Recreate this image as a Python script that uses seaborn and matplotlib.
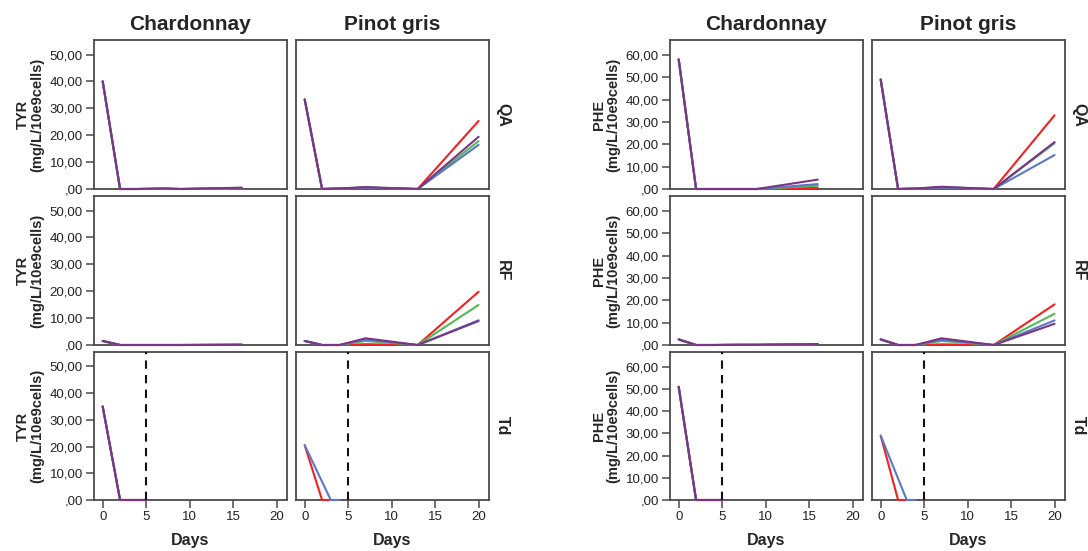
import numpy as np
import pandas as pd
import matplotlib
matplotlib.use("Agg")
import matplotlib.pyplot as plt
from matplotlib.ticker import FuncFormatter
import seaborn as sns

# ---------------- data ----------------
series_names = ["S1", "S2", "S3", "S4"]
series_colors = ["#f52020", "#55b855", "#5a78c8", "#7a3585"]

days_ch = [0, 2, 4, 7, 9, 16]
days_pg = [0, 2, 4, 7, 13, 20]
days_td_ch = [0, 2, 5]
days_td_pg = [0, 2, 3, 4]
nan = np.nan

# TYR
tyr_qa_ch = [[40, 0, 0, 0.1, 0, 0.2], [40, 0, 0, 0.1, 0, 0.3],
             [40, 0, 0, 0.2, 0, 0.4], [40, 0, 0, 0.2, 0, 0.5]]
tyr_qa_pg = [[33.3, 0, 0.2, 0.5, 0, 25.3], [33.3, 0, 0.2, 0.6, 0, 17.8],
             [33.3, 0, 0.2, 0.5, 0, 16.4], [33.3, 0, 0.2, 0.7, 0, 19.4]]
tyr_rf_ch = [[1.5, 0, 0, 0, 0, 0.1], [1.5, 0, 0, 0, 0, 0.1],
             [1.5, 0, 0, 0, 0, 0.1], [1.5, 0, 0, 0, 0, 0.1]]
tyr_rf_pg = [[1.5, 0, 0, 0.3, 0, 19.8], [1.5, 0, 0, 1.5, 0, 14.9],
             [1.5, 0, 0, 2.0, 0, 9.2], [1.5, 0, 0, 2.5, 0, 8.9]]
tyr_td_ch = [[35, 0, 0], [35, 0, 0], [35, 0, 0], [35, 0, 0]]
tyr_td_pg = [[20.5, 0, nan, 0], [nan, nan, nan, nan],
             [20.5, nan, 0, 0], [nan, nan, nan, nan]]

# PHE
phe_qa_ch = [[58, 0, 0, 0, 0, 0.5], [58, 0, 0, 0, 0, 1.5],
             [58, 0, 0, 0, 0, 2.2], [58, 0, 0, 0, 0, 4.2]]
phe_qa_pg = [[49, 0, 0.2, 0.7, 0, 33], [49, 0, 0.2, 0.8, 0, 20.5],
             [49, 0, 0.2, 0.6, 0, 15.2], [49, 0, 0.2, 1.0, 0, 21]]
phe_rf_ch = [[2.5, 0, 0, 0.1, 0.1, 0.4], [2.5, 0, 0, 0.1, 0.1, 0.4],
             [2.5, 0, 0, 0.1, 0.1, 0.4], [2.5, 0, 0, 0.1, 0.1, 0.4]]
phe_rf_pg = [[2.5, 0, 0, 0.3, 0, 18.2], [2.5, 0, 0, 1.8, 0, 14],
             [2.5, 0, 0, 2.3, 0, 11], [2.5, 0, 0, 3.0, 0, 9.5]]
phe_td_ch = [[51, 0, 0], [51, 0, 0], [51, 0, 0], [51, 0, 0]]
phe_td_pg = [[29, 0, nan, 0], [nan, nan, nan, nan],
             [29, nan, 0, 0], [nan, nan, nan, nan]]

cultivars = ["Chardonnay", "Pinot gris"]
conditions = ["QA", "RF", "Td"]
compounds = ["TYR", "PHE"]
x_ticks = [0, 5, 10, 15, 20]
y_ticks_tyr = [0, 10, 20, 30, 40, 50]
y_ticks_phe = [0, 10, 20, 30, 40, 50, 60]
cutoff_day = 5

panels = {
    "TYR": {"QA": [(days_ch, tyr_qa_ch), (days_pg, tyr_qa_pg)],
            "RF": [(days_ch, tyr_rf_ch), (days_pg, tyr_rf_pg)],
            "Td": [(days_td_ch, tyr_td_ch), (days_td_pg, tyr_td_pg)]},
    "PHE": {"QA": [(days_ch, phe_qa_ch), (days_pg, phe_qa_pg)],
            "RF": [(days_ch, phe_rf_ch), (days_pg, phe_rf_pg)],
            "Td": [(days_td_ch, phe_td_ch), (days_td_pg, phe_td_pg)]},
}

# ---------------- style ----------------
sns.set_style("white")
plt.rcParams["font.family"] = ["Liberation Sans", "DejaVu Sans"]

W, H = 1088, 551
fig = plt.figure(figsize=(W / 100, H / 100), dpi=100)

col_px = {"TYR": [(94, 287), (296, 489)], "PHE": [(670, 863), (872, 1065)]}
row_px = [(40, 189), (196, 345), (352, 500)]
ylims = {"TYR": 55.4, "PHE": 66.7}
yticks = {"TYR": y_ticks_tyr, "PHE": y_ticks_phe}
spine_col = "#4a4a4a"


def fmt(v, pos):
    if abs(v) < 1e-9:
        return ",00"
    return f"{v:.2f}".replace(".", ",")


for comp in compounds:
    for r, cond in enumerate(conditions):
        y0, y1 = row_px[r]
        for c, cult in enumerate(cultivars):
            x0, x1 = col_px[comp][c]
            ax = fig.add_axes([x0 / W, 1 - y1 / H, (x1 - x0) / W, (y1 - y0) / H])
            days, vals = panels[comp][cond][c]
            rows = []
            for name, sv in zip(series_names, vals):
                for d, v in zip(days, sv):
                    rows.append({"day": d, "value": v, "series": name})
            df = pd.DataFrame(rows).dropna()
            present = [s for s in series_names if s in set(df["series"])]
            pal = {s: col for s, col in zip(series_names, series_colors)}
            sns.lineplot(data=df, x="day", y="value", hue="series",
                         hue_order=present, palette=pal, legend=False,
                         errorbar=None, linewidth=1.5, ax=ax)
            for ln in ax.get_lines():
                ln.set_clip_on(False)
            if cond == "Td":
                ax.axvline(cutoff_day, color="#111111", linestyle=(0, (4, 3)),
                           linewidth=1.5)
            ax.set_xlim(-1, 21.2)
            ax.set_ylim(0, ylims[comp])
            ax.set_xlabel("")
            ax.set_ylabel("")
            for sp in ax.spines.values():
                sp.set_color(spine_col)
                sp.set_linewidth(1.3)
                sp.set_zorder(1)
            ax.tick_params(axis="both", which="both", direction="out",
                           length=6, width=1.1, color=spine_col,
                           labelsize=9.5, labelcolor="#222222", pad=2)
            ax.set_xticks(x_ticks)
            ax.set_yticks(yticks[comp])
            ax.yaxis.set_major_formatter(FuncFormatter(fmt))
            if c == 0:
                ax.tick_params(left=True, labelleft=True)
            else:
                ax.tick_params(left=False, labelleft=False)
            if r == 2:
                ax.tick_params(bottom=True, labelbottom=True)
                ax.set_xlabel("Days", fontsize=11.5, fontweight="bold",
                              labelpad=7)
            else:
                ax.tick_params(bottom=False, labelbottom=False)
            if r == 0:
                ax.set_title(cult, fontsize=15, fontweight="bold", pad=7)
            if c == 0:
                ax.set_ylabel(f"{comp}\n(mg/L/10e9cells)", fontsize=10.5,
                              fontweight="bold", linespacing=1.0, labelpad=4)
            if c == 1:
                ax.text(1.07, 0.5, cond, transform=ax.transAxes, rotation=270,
                        ha="center", va="center", fontsize=11.5,
                        fontweight="bold")

fig.savefig("out.png", dpi=100, facecolor="white")
